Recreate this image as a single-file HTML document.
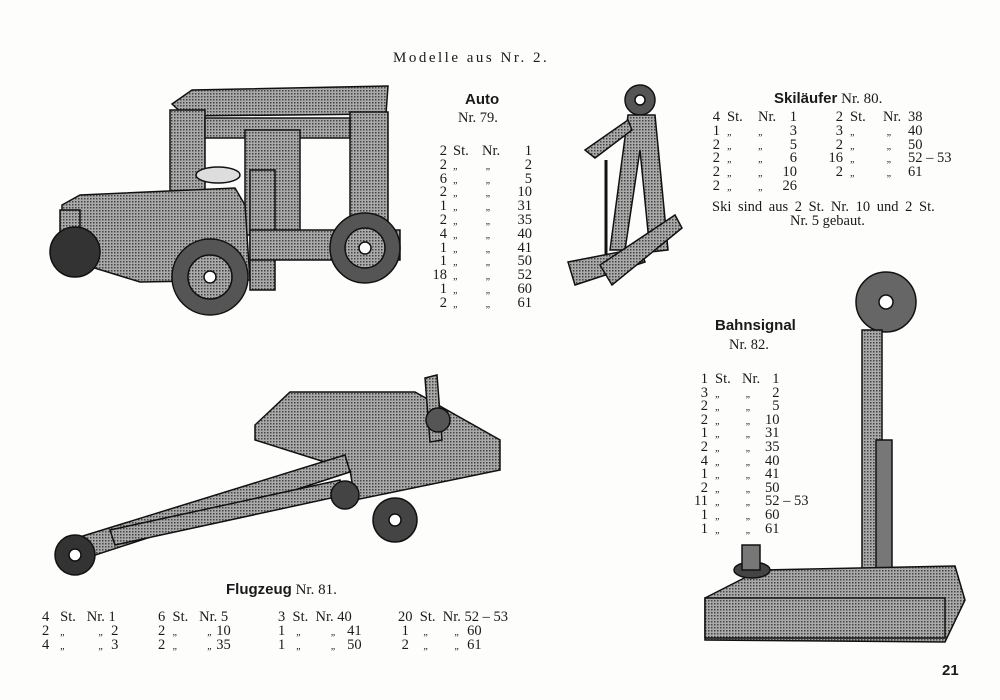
<!DOCTYPE html>
<html><head><meta charset="utf-8">
<style>
body{margin:0;background:#fff;}
#p{position:relative;width:1000px;height:700px;overflow:hidden;background:#fdfdfc;font-family:"Liberation Serif",serif;color:#1a1a1a;font-size:14.5px;}
.t{position:absolute;white-space:nowrap;line-height:14px;}
.r{text-align:right;}
b{font-family:"Liberation Sans",sans-serif;font-weight:bold;}
.d{font-size:10px;font-style:italic;line-height:0;}
svg{position:absolute;left:0;top:0;}
</style></head><body><div id="p">
<svg width="1000" height="700" viewBox="0 0 1000 700">
<defs>
<pattern id="h" width="3" height="3" patternUnits="userSpaceOnUse"><rect width="3" height="3" fill="#aaa"/><rect width="1.5" height="1.5" fill="#444"/></pattern>
</defs>
<g stroke="#111" stroke-width="1.5" fill="url(#h)">
<!-- Auto -->
<polygon points="172,104 192,90 388,86 386,114 185,116"/>
<rect x="170" y="110" width="35" height="160"/>
<rect x="350" y="112" width="38" height="135"/>
<rect x="205" y="118" width="145" height="20"/>
<rect x="245" y="130" width="55" height="105"/>
<rect x="250" y="170" width="25" height="120"/>
<ellipse cx="218" cy="175" rx="22" ry="8" fill="#ddd"/>
<polygon points="62,205 80,195 235,188 245,205 250,280 140,282 62,258"/>
<rect x="60" y="210" width="20" height="50"/>
<rect x="250" y="230" width="150" height="30"/>
<circle cx="75" cy="252" r="25" fill="#333"/>
<circle cx="210" cy="277" r="38" fill="#555"/>
<circle cx="210" cy="277" r="22" fill="url(#h)"/>
<circle cx="210" cy="277" r="6" fill="#fff"/>
<circle cx="365" cy="248" r="35" fill="#555"/>
<circle cx="365" cy="248" r="20" fill="url(#h)"/>
<circle cx="365" cy="248" r="6" fill="#fff"/>
<!-- Skier -->
<circle cx="640" cy="100" r="15" fill="#555"/>
<circle cx="640" cy="100" r="5" fill="#fff"/>
<polygon points="628,115 655,115 668,250 650,252 640,150 625,250 610,250"/>
<line x1="606" y1="160" x2="606" y2="275" stroke-width="3"/>
<polygon points="585,150 628,120 632,130 595,158"/>
<polygon points="568,262 640,248 645,262 575,285"/>
<polygon points="600,265 675,215 682,228 612,285"/>
<!-- Airplane -->
<polygon points="255,425 290,392 415,392 500,440 500,470 355,500 350,470 255,440"/>
<polygon points="70,540 345,455 350,472 80,560"/>
<polygon points="110,530 340,480 345,495 115,545"/>
<polygon points="425,378 437,375 442,440 430,442"/>
<circle cx="438" cy="420" r="12" fill="#555"/>
<circle cx="75" cy="555" r="20" fill="#333"/>
<circle cx="75" cy="555" r="6" fill="#fff"/>
<circle cx="395" cy="520" r="22" fill="#444"/>
<circle cx="395" cy="520" r="6" fill="#fff"/>
<circle cx="345" cy="495" r="14" fill="#444"/>
<!-- Bahnsignal -->
<circle cx="886" cy="302" r="30" fill="#666"/>
<circle cx="886" cy="302" r="7" fill="#fff"/>
<rect x="862" y="330" width="20" height="240"/>
<rect x="876" y="440" width="16" height="150" fill="#777"/>
<polygon points="705,598 760,570 955,566 965,600 945,642 705,640"/>
<rect x="705" y="598" width="240" height="40"/>
<ellipse cx="752" cy="570" rx="18" ry="8" fill="#444"/>
<rect x="742" y="545" width="18" height="25" fill="#777"/>
</g>
</svg>

<div class="t" style="left:393px;top:51px;letter-spacing:2.5px;font-size:15px">Modelle aus Nr. 2.</div>
<div class="t" style="left:465px;top:93px;font-size:15px"><b>Auto</b></div>
<div class="t" style="left:458px;top:111px">Nr. 79.</div>

<div class="t r" style="left:425px;top:145px;width:22px;line-height:13.8px">2<br>2<br>6<br>2<br>1<br>2<br>4<br>1<br>1<br>18<br>1<br>2</div>
<div class="t" style="left:453px;top:145px;line-height:13.8px">St.<br><span class="d">„</span><br><span class="d">„</span><br><span class="d">„</span><br><span class="d">„</span><br><span class="d">„</span><br><span class="d">„</span><br><span class="d">„</span><br><span class="d">„</span><br><span class="d">„</span><br><span class="d">„</span><br><span class="d">„</span></div>
<div class="t" style="left:482px;top:145px;line-height:13.8px">Nr.<br>&nbsp;<span class="d">„</span><br>&nbsp;<span class="d">„</span><br>&nbsp;<span class="d">„</span><br>&nbsp;<span class="d">„</span><br>&nbsp;<span class="d">„</span><br>&nbsp;<span class="d">„</span><br>&nbsp;<span class="d">„</span><br>&nbsp;<span class="d">„</span><br>&nbsp;<span class="d">„</span><br>&nbsp;<span class="d">„</span><br>&nbsp;<span class="d">„</span></div>
<div class="t r" style="left:505px;top:145px;width:27px;line-height:13.8px">1<br>2<br>5<br>10<br>31<br>35<br>40<br>41<br>50<br>52<br>60<br>61</div>

<div class="t" style="left:774px;top:92px;font-size:15px"><b>Skiläufer</b> Nr. 80.</div>
<div class="t r" style="left:705px;top:111px;width:15px;line-height:13.8px">4<br>1<br>2<br>2<br>2<br>2</div>
<div class="t" style="left:727px;top:111px;line-height:13.8px">St.<br><span class="d">„</span><br><span class="d">„</span><br><span class="d">„</span><br><span class="d">„</span><br><span class="d">„</span></div>
<div class="t" style="left:758px;top:111px;line-height:13.8px">Nr.<br><span class="d">„</span><br><span class="d">„</span><br><span class="d">„</span><br><span class="d">„</span><br><span class="d">„</span></div>
<div class="t r" style="left:775px;top:111px;width:22px;line-height:13.8px">1<br>3<br>5<br>6<br>10<br>26</div>
<div class="t r" style="left:825px;top:111px;width:18px;line-height:13.8px">2<br>3<br>2<br>16<br>2</div>
<div class="t" style="left:850px;top:111px;line-height:13.8px">St.<br><span class="d">„</span><br><span class="d">„</span><br><span class="d">„</span><br><span class="d">„</span></div>
<div class="t" style="left:883px;top:111px;line-height:13.8px">Nr.<br>&nbsp;<span class="d">„</span><br>&nbsp;<span class="d">„</span><br>&nbsp;<span class="d">„</span><br>&nbsp;<span class="d">„</span></div>
<div class="t" style="left:908px;top:111px;line-height:13.8px">38<br>40<br>50<br>52 – 53<br>61</div>
<div class="t" style="left:712px;top:200px;word-spacing:3px">Ski sind aus 2 St. Nr. 10 und 2 St.</div>
<div class="t" style="left:790px;top:214px">Nr. 5 gebaut.</div>

<div class="t" style="left:715px;top:319px;font-size:15px"><b>Bahnsignal</b></div>
<div class="t" style="left:729px;top:338px">Nr. 82.</div>
<div class="t r" style="left:690px;top:373px;width:18px;line-height:13.6px">1<br>3<br>2<br>2<br>1<br>2<br>4<br>1<br>2<br>11<br>1<br>1</div>
<div class="t" style="left:715px;top:373px;line-height:13.6px">St.<br><span class="d">„</span><br><span class="d">„</span><br><span class="d">„</span><br><span class="d">„</span><br><span class="d">„</span><br><span class="d">„</span><br><span class="d">„</span><br><span class="d">„</span><br><span class="d">„</span><br><span class="d">„</span><br><span class="d">„</span></div>
<div class="t" style="left:742px;top:373px;line-height:13.6px">Nr.<br>&nbsp;<span class="d">„</span><br>&nbsp;<span class="d">„</span><br>&nbsp;<span class="d">„</span><br>&nbsp;<span class="d">„</span><br>&nbsp;<span class="d">„</span><br>&nbsp;<span class="d">„</span><br>&nbsp;<span class="d">„</span><br>&nbsp;<span class="d">„</span><br>&nbsp;<span class="d">„</span><br>&nbsp;<span class="d">„</span><br>&nbsp;<span class="d">„</span></div>
<div class="t" style="left:765px;top:373px;line-height:13.6px">&nbsp;&nbsp;1<br>&nbsp;&nbsp;2<br>&nbsp;&nbsp;5<br>10<br>31<br>35<br>40<br>41<br>50<br>52 – 53<br>60<br>61</div>

<div class="t" style="left:226px;top:583px;font-size:15px"><b>Flugzeug</b> Nr. 81.</div>
<div class="t" style="left:42px;top:610px;line-height:14px">4&nbsp;&nbsp; St.&nbsp;&nbsp; Nr. 1<br>2&nbsp;&nbsp; <span class="d">„</span>&nbsp;&nbsp;&nbsp;&nbsp;&nbsp;&nbsp;&nbsp;&nbsp; <span class="d">„</span>&nbsp; 2<br>4&nbsp;&nbsp; <span class="d">„</span>&nbsp;&nbsp;&nbsp;&nbsp;&nbsp;&nbsp;&nbsp;&nbsp; <span class="d">„</span>&nbsp; 3</div>
<div class="t" style="left:158px;top:610px;line-height:14px">6&nbsp; St.&nbsp;&nbsp; Nr. 5<br>2&nbsp; <span class="d">„</span>&nbsp;&nbsp;&nbsp;&nbsp;&nbsp;&nbsp;&nbsp; <span class="d">„</span> 10<br>2&nbsp; <span class="d">„</span>&nbsp;&nbsp;&nbsp;&nbsp;&nbsp;&nbsp;&nbsp; <span class="d">„</span> 35</div>
<div class="t" style="left:278px;top:610px;line-height:14px">3&nbsp; St.&nbsp; Nr. 40<br>1&nbsp;&nbsp; <span class="d">„</span>&nbsp;&nbsp;&nbsp;&nbsp;&nbsp;&nbsp;&nbsp; <span class="d">„</span>&nbsp;&nbsp; 41<br>1&nbsp;&nbsp; <span class="d">„</span>&nbsp;&nbsp;&nbsp;&nbsp;&nbsp;&nbsp;&nbsp; <span class="d">„</span>&nbsp;&nbsp; 50</div>
<div class="t" style="left:398px;top:610px;line-height:14px">20&nbsp; St.&nbsp; Nr. 52 – 53<br>&nbsp;1&nbsp;&nbsp;&nbsp; <span class="d">„</span>&nbsp;&nbsp;&nbsp;&nbsp;&nbsp;&nbsp; <span class="d">„</span>&nbsp; 60<br>&nbsp;2&nbsp;&nbsp;&nbsp; <span class="d">„</span>&nbsp;&nbsp;&nbsp;&nbsp;&nbsp;&nbsp; <span class="d">„</span>&nbsp; 61</div>

<div class="t" style="left:942px;top:664px;font-size:15px"><b>21</b></div>
</div></body></html>
